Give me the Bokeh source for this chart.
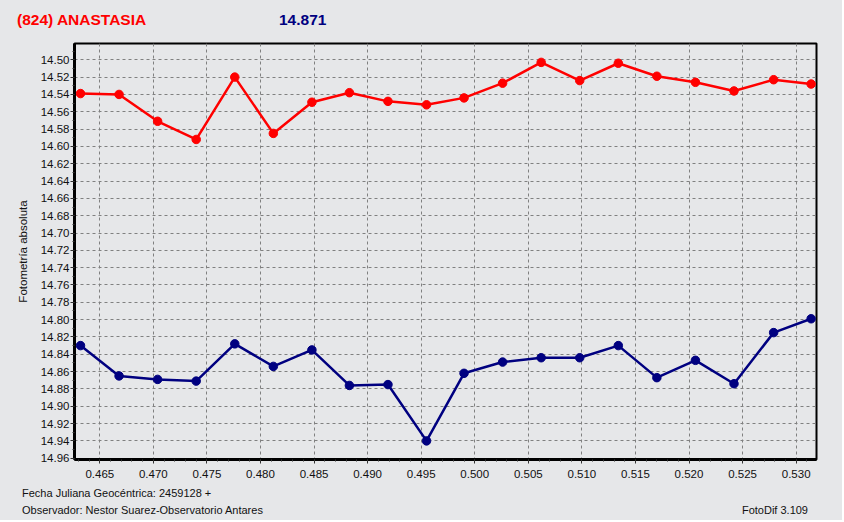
from bokeh.plotting import figure
from bokeh.models import Range1d, FixedTicker, NumeralTickFormatter, Div
from bokeh.layouts import column
from bokeh.embed import file_html
from bokeh.resources import INLINE

# ---- data ----
jd = [0.4632, 0.4668, 0.4704, 0.4740, 0.4776, 0.4812, 0.4848, 0.4883, 0.4919, 0.4955,
      0.4990, 0.5026, 0.5062, 0.5098, 0.5134, 0.5170, 0.5206, 0.5242, 0.5279, 0.5314]
asteroid_mag = [14.539, 14.540, 14.571, 14.592, 14.520, 14.585, 14.549, 14.538, 14.548, 14.552,
                14.544, 14.527, 14.503, 14.524, 14.504, 14.519, 14.526, 14.536, 14.523, 14.528]
comparison_mag = [14.830, 14.865, 14.869, 14.871, 14.828, 14.854, 14.835, 14.876, 14.875, 14.940,
                  14.862, 14.849, 14.844, 14.844, 14.830, 14.867, 14.847, 14.874, 14.815, 14.799]
x_ticks = [0.465, 0.470, 0.475, 0.480, 0.485, 0.490, 0.495, 0.500, 0.505, 0.510, 0.515, 0.520, 0.525, 0.530]
x_minor = [round(0.463 + 0.001 * i, 3) for i in range(69)]
y_ticks = [round(14.50 + 0.02 * i, 2) for i in range(24)]
y_minor = [round(14.49 + 0.01 * i, 2) for i in range(48)]
title_name = "(824) ANASTASIA"
title_value = "14.871"
y_label = "Fotometría absoluta"
foot1 = "Fecha Juliana Geocéntrica: 2459128 +"
foot2 = "Observador: Nestor Suarez-Observatorio Antares"
foot3 = "FotoDif 3.109"

BG = "#E6E7E9"
FONT = "Liberation Sans"
CSS_FONT = "'Liberation Sans', Arial, sans-serif"
W = 842
TOP_H, FIG_H, BOT_H = 35, 450, 35

p = figure(width=W, height=FIG_H, output_backend="svg", toolbar_location=None,
           x_range=Range1d(0.46264, 0.5319), y_range=Range1d(14.9615, 14.4812),
           min_border_left=74, min_border_top=8, min_border_right=26, min_border_bottom=26)
p.background_fill_color = BG
p.border_fill_color = BG
p.outline_line_color = "black"
p.outline_line_width = 2

p.xaxis.ticker = FixedTicker(ticks=x_ticks, minor_ticks=x_minor)
p.yaxis.ticker = FixedTicker(ticks=y_ticks, minor_ticks=y_minor)
p.xaxis.formatter = NumeralTickFormatter(format="0.000")
p.yaxis.formatter = NumeralTickFormatter(format="0.00")
for ax in (p.xaxis, p.yaxis):
    ax.axis_line_width = 3
    ax.axis_line_color = "black"
    ax.major_tick_line_color = "#333333"
    ax.minor_tick_line_color = "#333333"
    ax.major_tick_in = 0
    ax.minor_tick_in = 0
    ax.major_tick_out = 4
    ax.minor_tick_out = 2
    ax.major_label_text_font = FONT
    ax.major_label_text_font_size = "11.5px"
    ax.major_label_text_color = "#111111"
p.yaxis.major_label_standoff = 1
p.xaxis.major_label_standoff = 6
p.yaxis.axis_label = y_label
p.yaxis.axis_label_text_font = FONT
p.yaxis.axis_label_text_font_size = "11.5px"
p.yaxis.axis_label_text_font_style = "normal"
p.yaxis.axis_label_text_color = "#111111"
p.yaxis.axis_label_standoff = 9

for g in (p.xgrid, p.ygrid):
    g.grid_line_color = "#808080"
    g.grid_line_dash = "3 3"
    g.grid_line_width = 1

p.line(jd, asteroid_mag, line_color="#FF0000", line_width=2.5)
p.scatter(jd, asteroid_mag, size=8.5, color="#FF0000")
p.line(jd, comparison_mag, line_color="#000080", line_width=2.5)
p.scatter(jd, comparison_mag, size=8.5, color="#000080")


def span(txt, left=None, right=None, top=0, color="#111111", size="11px", weight="normal"):
    pos = f"left:{left}px;" if left is not None else f"right:{right}px;"
    return (f'<span style="position:absolute;{pos}top:{top}px;color:{color};'
            f'font-family:{CSS_FONT};font-size:{size};font-weight:{weight};'
            f'line-height:1;white-space:nowrap;">{txt}</span>')


top_html = ('<div style="position:relative;width:%dpx;height:%dpx;">' % (W, TOP_H)
            + span(title_name, left=17, top=12, color="#FF0000", size="15.5px", weight="bold")
            + span(title_value, left=279, top=12, color="#000080", size="15.5px", weight="bold")
            + '</div>')
bot_html = ('<div style="position:relative;width:%dpx;height:%dpx;">' % (W, BOT_H)
            + span(foot1, left=22, top=3)
            + span(foot2, left=22, top=20)
            + span(foot3, right=W - 808, top=20)
            + '</div>')

top = Div(text=top_html, width=W, height=TOP_H, styles={"background-color": BG, "margin": "0"})
bottom = Div(text=bot_html, width=W, height=BOT_H, styles={"background-color": BG, "margin": "0"})

layout = column(top, p, bottom, spacing=0, styles={"background-color": BG})

open("out.html", "w").write(file_html(layout, INLINE))
